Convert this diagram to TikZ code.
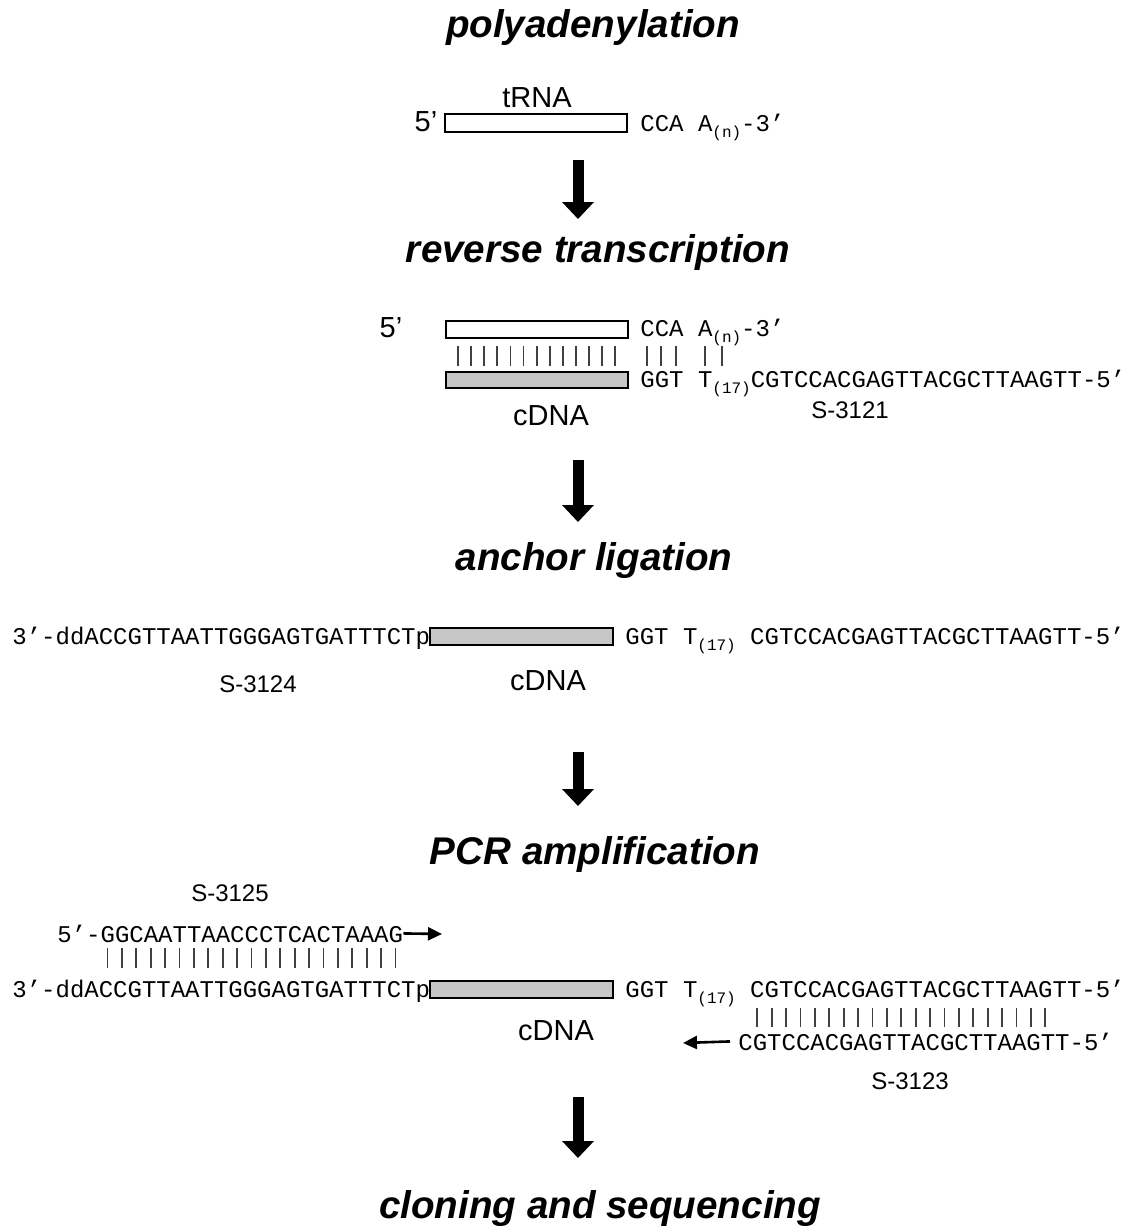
\documentclass[tikz,border=0pt]{standalone}
\usepackage{fontspec}
\setmainfont{Liberation Sans}
\setmonofont{Liberation Mono}
\usetikzlibrary{arrows.meta}

\tikzset{
  heading/.style={font=\fontsize{19.3}{22}\selectfont\bfseries\itshape, anchor=base, inner sep=0pt},
  lbl/.style={font=\fontsize{12}{14}\selectfont, anchor=base, inner sep=0pt},
  biglbl/.style={lbl, font=\fontsize{14.5}{16}\selectfont},
  seq/.style={font=\fontsize{12}{14}\selectfont\ttfamily, anchor=base west, inner sep=0pt},
  strand/.style={draw, line width=1.1pt},
  pair/.style={line width=0.9pt, black!75},
  stepArrow/.style={line width=5.5pt, -{Triangle[width=15.5pt,length=8.5pt]}},
  primer/.style={line width=1.3pt, -{Triangle[width=6.5pt,length=7pt]}},
}
\newcommand{\lowtxt}[1]{\raisebox{-0.5ex}{\fontsize{8}{9}\selectfont #1}}

\begin{document}
\begin{tikzpicture}[x=0.5pt,y=-0.5pt]
  \pgfmathsetmacro{\cw}{14.4} % width of one mono letter
  \useasboundingbox (0,0) rectangle (1125,1232);

  % the five steps
  \node[heading] (polya) at (593,37) {polyadenylation};
  \node[heading] (rt) at (598,262) {reverse transcription};
  \node[heading] (lig) at (594,570) {anchor ligation};
  \node[heading] (pcr) at (595,864) {PCR amplification};
  \node[heading] (clone) at (600,1218) {cloning and sequencing};

  \coordinate (s1) at (578,160);  \coordinate (e1) at (578,219);
  \coordinate (s2) at (578,460);  \coordinate (e2) at (578,522);
  \coordinate (s3) at (578,752);  \coordinate (e3) at (578,806);
  \coordinate (s4) at (578,1097); \coordinate (e4) at (578,1158);
  \foreach \i in {1,...,4}
    \draw[stepArrow] (s\i) -- (e\i);

  % tRNA
  \node[biglbl] (trna) at (537,107) {tRNA};
  \node[biglbl] (five1) at (426,131) {5'};
  \draw[strand, fill=white] (445,114) rectangle (627,132);
  \node[seq] (tail1) at (640,131) {CCA A\lowtxt{(n)}-3’};

  % tRNA with cDNA
  \node[biglbl] (five2) at (391,337) {5'};
  \draw[strand, fill=white] (446,321) rectangle (628,338);
  \node[seq] (tail2) at (640,336) {CCA A\lowtxt{(n)}-3’};
  \foreach \i in {0,...,12}
    \draw[pair] ({458+\i*13.1},346) -- ++(0,20);
  \foreach \x in {647,661,676,705,722}
    \draw[pair] (\x,346) -- ++(0,20);
  \draw[strand, fill=black!22] (446,372) rectangle (628,388);
  \node[seq] (oligo1) at (640,387) {GGT T\lowtxt{(17)}CGTCCACGAGTTACGCTTAAGTT-5’};
  \node[biglbl] (cdna1) at (551,425) {cDNA};
  \node[lbl] (s3121) at (850,418) {S-3121};

  % anchor ligated
  \node[seq] (anchor1) at (12,644) {3’-ddACCGTTAATTGGGAGTGATTTCTp};
  \draw[strand, fill=black!22] (430,628) rectangle (613,645);
  \node[seq] (oligo2) at (625,644) {GGT T\lowtxt{(17)} CGTCCACGAGTTACGCTTAAGTT-5’};
  \node[lbl] (s3124) at (258,692) {S-3124};
  \node[biglbl] (cdna2) at (548,690) {cDNA};

  % PCR
  \node[lbl] (s3125) at (230,901) {S-3125};
  \node[seq] (fwd) at (57,942) {5’-GGCAATTAACCCTCACTAAAG};
  \coordinate (fwdtip) at (442,934);
  \draw[primer] (fwd.east) -- (fwdtip);
  \foreach \i in {3,...,23}
    \draw[pair] ({57+(\i+0.5)*\cw},948) -- ++(0,20);
  \node[seq] (anchor2) at (12,997) {3’-ddACCGTTAATTGGGAGTGATTTCTp};
  \draw[strand, fill=black!22] (430,981) rectangle (613,998);
  \node[seq] (oligo3) at (625,997) {GGT T\lowtxt{(17)} CGTCCACGAGTTACGCTTAAGTT-5’};
  \foreach \i in {0,...,20}
    \draw[pair] ({750+(\i+0.5)*\cw},1008) -- ++(0,19);
  \node[seq] (rev) at (738,1050) {CGTCCACGAGTTACGCTTAAGTT-5’};
  \coordinate (revtip) at (683,1043);
  \draw[primer] ([xshift=-4pt]rev.west) -- (revtip);
  \node[biglbl] (cdna3) at (556,1040) {cDNA};
  \node[lbl] (s3123) at (910,1089) {S-3123};
\end{tikzpicture}
\end{document}
